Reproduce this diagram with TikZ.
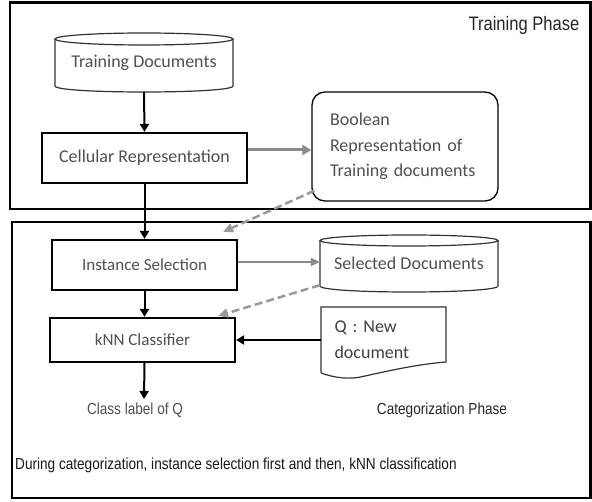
\documentclass[tikz,border=0pt]{standalone}
\usepackage{fontspec}
\setmainfont{Carlito}
\newfontfamily\arialn[FakeStretch=0.85]{Liberation Sans}
\usetikzlibrary{arrows.meta,calc}
\definecolor{lbl}{HTML}{505050}
\definecolor{garrow}{HTML}{8A8A8A}
\definecolor{gdash}{HTML}{9A9A9A}
\tikzset{
  outerbox/.style={draw=black,line width=2.5pt},
  procbox/.style={draw=black,line width=2.2pt,rectangle,inner sep=0pt,text=lbl},
  ghost/.style={draw=none,rectangle,inner sep=0pt,text=lbl},
  cylline/.style={draw=black!80,line width=1.2pt},
  blk/.style={line width=2pt,-{Triangle[length=8pt,width=9pt]}},
  gthick/.style={draw=garrow,line width=3pt,-{Triangle[length=9pt,width=10pt]}},
  gthin/.style={draw=garrow,line width=1.6pt,-{Triangle[length=9pt,width=8pt]}},
  gdashed/.style={draw=gdash,line width=2.5pt,dash pattern=on 8pt off 4pt,-{Triangle[length=10pt,width=9pt]}},
  f18/.style={font=\fontsize{18}{25.5}\selectfont},
  f17/.style={font=\fontsize{17}{22}\selectfont},
  plain/.style={inner sep=0pt,anchor=base}
}
\begin{document}
\begin{tikzpicture}[x=1pt,y=-1pt]
\useasboundingbox[fill=white] (0,0) rectangle (592,502);
% outer phase boxes
\draw[outerbox] (10,2.5) rectangle (590.5,209);
\draw[outerbox] (12,222) rectangle (590.5,498);
\node[plain,text=black!85,font=\arialn\fontsize{19.5}{22}\selectfont] (tp) at (524,31) {Training Phase};
\node[plain,text=black!85,font=\arialn\fontsize{16}{20}\selectfont] (cp) at (442,415) {Categorization Phase};
\node[plain,anchor=base west,text=black!90,font=\arialn\fontsize{16}{20}\selectfont] (note) at (15,470) {During categorization, instance selection first and then, kNN classification};

% Training Documents cylinder
\node[ghost,f18,minimum width=178pt,minimum height=59pt] (td) at (144,62.5) {Training Documents};
\draw[cylline] (144,39) ellipse [x radius=89, y radius=6];
\draw[cylline] (55,39) -- (55,86) .. controls (55,94) and (233,94) .. (233,86) -- (233,39);

% Cellular representation
\node[procbox,f18,minimum width=205pt,minimum height=50pt] (cr) at (144.5,158) {Cellular Representation};

% Boolean representation
\node[draw=black,line width=1.3pt,rounded corners=13pt,text=lbl,f18,align=left,text width=150pt,minimum width=186pt,minimum height=109pt] (bool) at (405,146.5) {Boolean\\Representation of\\Training documents};

% Instance selection
\node[procbox,f17,minimum width=185pt,minimum height=50pt] (is) at (144.5,265) {Instance Selection};

% Selected documents cylinder
\node[ghost,f18,minimum width=178pt,minimum height=57pt] (sd) at (409,263.5) {Selected Documents};
\draw[cylline] (409,240.5) ellipse [x radius=89, y radius=5.5];
\draw[cylline] (320,240.5) -- (320,286) .. controls (320,294) and (498,294) .. (498,286) -- (498,240.5);

% kNN classifier
\node[procbox,f17,minimum width=185pt,minimum height=44pt] (knn) at (142.5,340) {kNN Classifier};

% Q new document
\node[ghost,f18,align=left,text width=98pt,minimum width=125pt,minimum height=65pt,text=black!75] (q) at (383.5,339.5) {Q : New\\document};
\draw[cylline] (321,373) -- (321,307) -- (446,307) -- (446,362)
  .. controls (420,364) and (392,370) .. (365,376) .. controls (350,380) and (335,378) .. (321,373);

% class label
\coordinate (clsend) at (144,399);
\node[plain,text=lbl,font=\arialn\fontsize{16}{20}\selectfont] (cls) at (135,415) {Class label of Q};

% connectors
\draw[blk] (td.south) -- (cr.north);
\draw[gthick] ([yshift=8pt]cr.east) -- ([yshift=8pt]cr.east -| bool.west);
\draw[blk] (cr.south) -- (is.north);
\draw[gdashed] ($(bool.south west)+(3,-11)$) -- ($(is.north east)+(-15,-7)$);
\draw[gthin] ([yshift=3pt]is.east) -- ([yshift=3pt]is.east -| sd.west);
\draw[blk] (is.south) -- (is.south |- knn.north);
\draw[gdashed] ($(sd.south west)+(0,-7)$) -- ($(knn.north east)+(-18,-1)$);
\draw[blk] (knn.east -| q.west) -- (knn.east);
\draw[blk] (knn.south -| is.south) -- (clsend);
\end{tikzpicture}
\end{document}
